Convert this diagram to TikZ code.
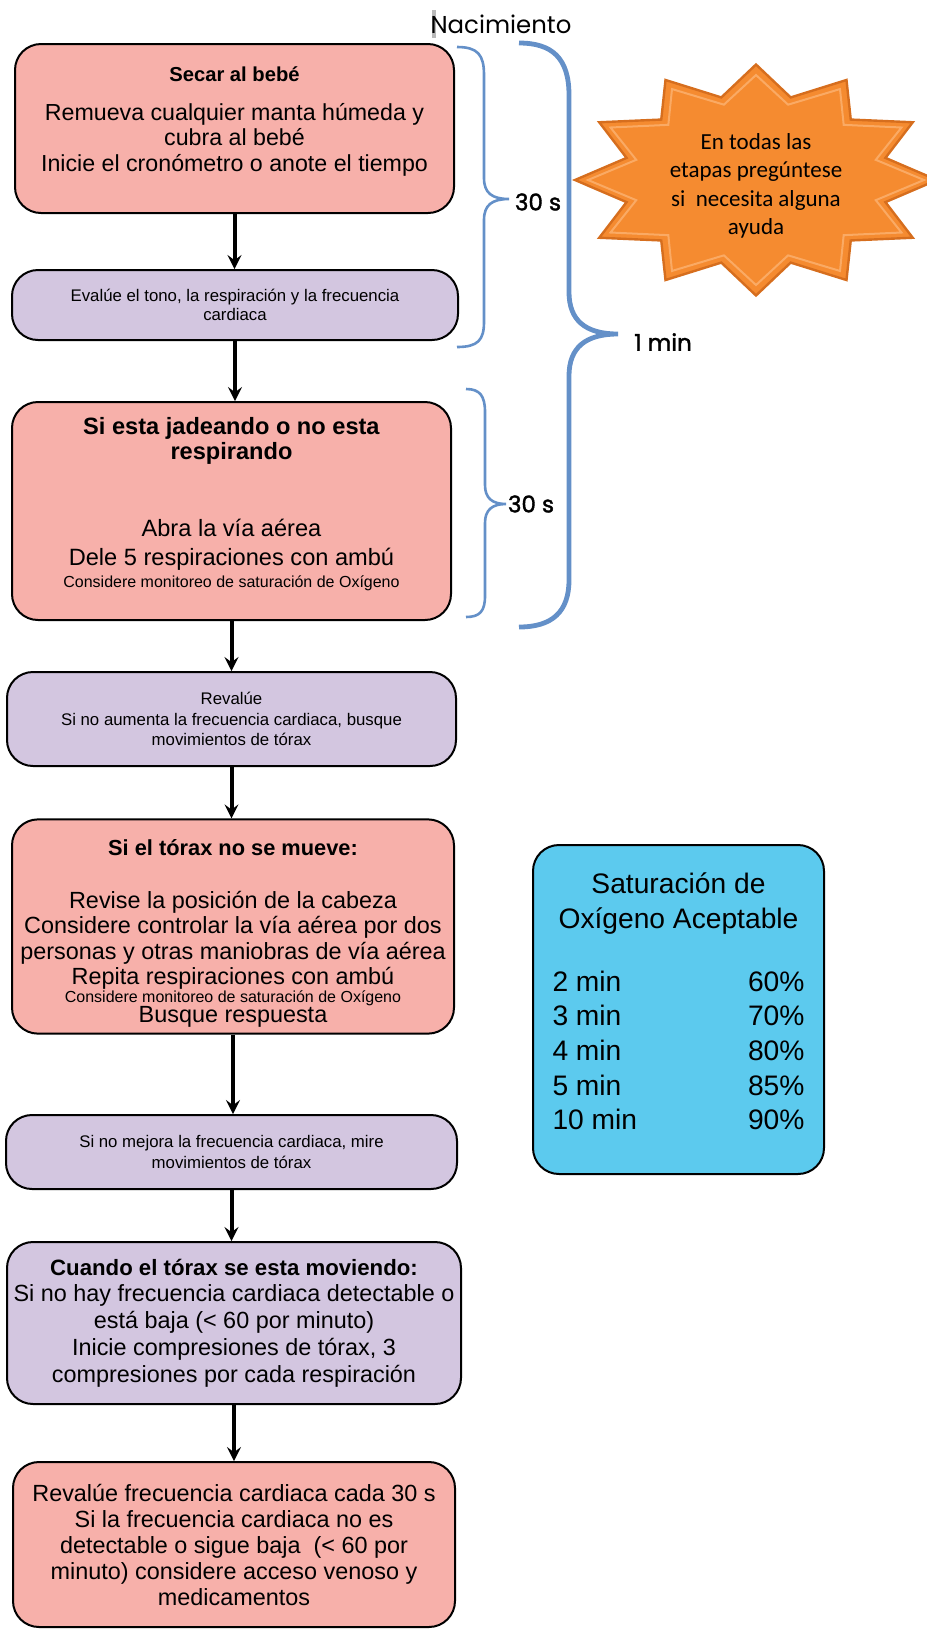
\documentclass[tikz,border=0pt]{standalone}
\usepackage{fontspec}
\setmainfont{Liberation Sans}
\newfontfamily\gothic{Poppins}
\newfontfamily\gothicb{Poppins}[FakeBold=1.6]
\newfontfamily\calib{Carlito}
\usetikzlibrary{arrows}
\tikzset{>=stealth}

\definecolor{rosa}{RGB}{247,176,170}
\definecolor{lila}{RGB}{211,198,224}
\definecolor{celeste}{RGB}{92,202,238}
\definecolor{naranja}{RGB}{245,139,48}
\definecolor{naranjaosc}{RGB}{214,110,30}
\definecolor{naranjaclaro}{RGB}{250,170,100}
\definecolor{llave}{RGB}{100,144,200}

\newcommand{\chica}{\fontsize{8.4}{10.4}\selectfont}
\newcommand{\mini}{\fontsize{8}{9.6}\selectfont}
\newcommand{\fila}[2]{\makebox[126pt]{#1\hfill#2}}

\tikzset{
  caja/.style={draw, line width=1pt, rounded corners=13pt, align=center, inner sep=3pt},
  rosacaja/.style={caja, fill=rosa},
  lilacaja/.style={caja, fill=lila},
  flecha/.style={->, line width=2pt},
  llavefina/.style={draw=llave, line width=1.3pt},
  llavegruesa/.style={draw=llave, line width=2.4pt},
  etiq/.style={font=\gothicb\fontsize{11.5}{13}\selectfont},
  estrellaforma/.style={fill=naranja, draw=naranjaosc, line width=1.2pt},
}

\begin{document}
\begin{tikzpicture}[x=0.5pt, y=-0.5pt]
	\useasboundingbox (0,0) rectangle (927,1630);
	
	% cajas del flujo
	\node[rosacaja, minimum width=219.5pt, minimum height=84.5pt, font=\fontsize{11.6}{12.75}\selectfont] (secar) at (234.5,128.5)
	{{\fontsize{10.1}{12}\selectfont\bfseries Secar al bebé}\\[6.75pt]Remueva cualquier manta húmeda y\\cubra al bebé\\Inicie el cronómetro o anote el tiempo\\[-3.2pt]\mbox{}};
	\node[lilacaja, minimum width=223pt, minimum height=35pt, font=\chica] (evalue) at (235,305)
	{Evalúe el tono, la respiración y la frecuencia\\[-0.8pt]cardiaca};
	\node[rosacaja, minimum width=219.5pt, minimum height=109pt, font=\fontsize{11.8}{12.5}\selectfont] (jadeo) at (231.5,511)
	{\textbf{Si esta jadeando o no esta}\\\textbf{respirando}\\[26pt]Abra la vía aérea\\[2pt]Dele 5 respiraciones con ambú\\[-1.5pt]{\mini Considere monitoreo de saturación de Oxígeno}\\[-3.8pt]\mbox{}};
	\node[lilacaja, minimum width=224.5pt, minimum height=47pt, font=\chica] (revalue) at (231.5,719)
	{Revalúe\\Si no aumenta la frecuencia cardiaca, busque\\movimientos de tórax};
	\node[rosacaja, minimum width=221pt, minimum height=106.5pt, font=\fontsize{11.7}{12.75}\selectfont] (torax) at (233,926.5)
	{\mbox{}\\[2.2pt]{\fontsize{10.9}{12}\selectfont\bfseries Si el tórax no se mueve:}\\[13.75pt]Revise la posición de la cabeza\\Considere controlar la vía aérea por dos\\personas y otras maniobras de vía aérea\\Repita respiraciones con ambú\\[-3.75pt]{\mini Considere monitoreo de saturación de Oxígeno}\\[-2.75pt]Busque respuesta};
	\node[lilacaja, minimum width=225.5pt, minimum height=37pt, font=\chica] (mejora) at (231.5,1152)
	{Si no mejora la frecuencia cardiaca, mire\\movimientos de tórax};
	\node[lilacaja, minimum width=227pt, minimum height=81pt, font=\fontsize{11.7}{13.4}\selectfont] (compresion) at (234,1323)
	{{\fontsize{11.1}{13}\selectfont\bfseries Cuando el tórax se esta moviendo:}\\Si no hay frecuencia cardiaca detectable o\\está baja (< 60 por minuto)\\Inicie compresiones de tórax, 3\\compresiones por cada respiración};
	\node[rosacaja, minimum width=221pt, minimum height=82.5pt, font=\fontsize{11.7}{13}\selectfont] (acceso) at (234,1544.5)
	{Revalúe frecuencia cardiaca cada 30 s\\Si la frecuencia cardiaca no es\\detectable o sigue baja\ \ (< 60 por\\minuto) considere acceso venoso y\\medicamentos};
	
	\foreach \a/\b in {secar/evalue, evalue/jadeo, jadeo/revalue, revalue/torax, torax/mejora, mejora/compresion, compresion/acceso}
		\draw[flecha] (\a.south) -- (\a.south |- \b.north);
	
	% tabla de saturacion
	\node[caja, fill=celeste, minimum width=145.5pt, minimum height=164.5pt, font=\fontsize{14.1}{17.5}\selectfont] (saturacion) at (678.5,1009.5)
	{Saturación de\\Oxígeno Aceptable\\[14pt]\fila{2 min}{60\%}\\[-0.2pt]\fila{3 min}{70\%}\\[-0.2pt]\fila{4 min}{80\%}\\[-0.2pt]\fila{5 min}{85\%}\\[-0.2pt]\fila{10 min}{90\%}\\[-9pt]\mbox{}};
	
	% llaves de tiempo
	\fill[gray!55] (432,10) rectangle (436,38);
	\node[font=\gothic\fontsize{12.2}{14}\selectfont] (nacimiento) at (501,24) {Nacimiento};
	\draw[llavefina] (457,47) .. controls (478,47) and (484,55) .. (484,75) -- (484,178) .. controls (484,193) and (492,199) .. (509,199) .. controls (492,199) and (484,205) .. (484,220) -- (484,322) .. controls (484,340) and (478,347) .. (457,347);
	\draw[llavefina] (466,389) .. controls (480,389) and (485,396) .. (485,412) -- (485,485) .. controls (485,498) and (492,504) .. (506,504) .. controls (492,504) and (485,510) .. (485,523) -- (485,596) .. controls (485,611) and (480,617) .. (466,617);
	\draw[llavegruesa] (519,43) .. controls (552,43) and (569,58) .. (569,95) -- (569,292) .. controls (569,320) and (585,334) .. (618,334) .. controls (585,334) and (569,348) .. (569,376) -- (569,580) .. controls (569,612) and (552,627) .. (519,627);
	\node[etiq] (treintaA) at (538,202) {30 s};
	\node[etiq] (minuto) at (663,342) {1 min};
	\node[etiq] (treintaB) at (531,504) {30 s};
	
	% estrella
	\coordinate (estrella) at (756,180);
	\draw[estrellaforma] (estrella) +(90:181 and 115.5) \foreach \k in {0,...,10} { -- +({105+30*\k}:134 and 85.5) -- +({120+30*\k}:181 and 115.5) } -- +(75:134 and 85.5) -- cycle;
	\draw[naranjaclaro, line width=1pt] (estrella) +(90:168 and 105) \foreach \k in {0,...,10} { -- +({105+30*\k}:124 and 78) -- +({120+30*\k}:168 and 105) } -- +(75:124 and 78) -- cycle;
	\node[font=\calib\fontsize{11.5}{14.2}\selectfont, align=center] (ayuda) at (756,186) {En todas las\\etapas pregúntese\\si\ \ necesita alguna\\ayuda};
\end{tikzpicture}
\end{document}
